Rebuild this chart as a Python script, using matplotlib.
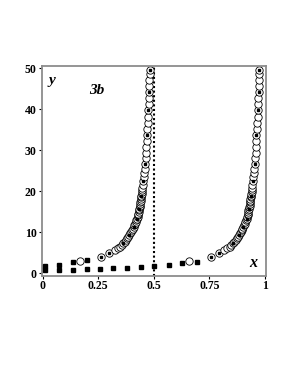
import matplotlib
matplotlib.use("Agg")
import matplotlib.pyplot as plt

plt.rcParams['font.family'] = ['Liberation Serif', 'DejaVu Serif']

# open circles (y shared by both branches)
y_c = [3.0, 4.05, 4.9,
       5.7, 6.1, 6.5, 6.9, 7.3, 7.7, 8.1, 8.5, 8.9, 9.3,
       9.7, 10.1, 10.5, 10.9, 11.3, 11.7, 12.1, 12.5, 12.9, 13.3,
       13.7, 14.1, 14.5, 14.9, 15.3, 15.7, 16.1, 16.5, 16.9, 17.3,
       17.7, 18.1, 18.5, 18.9, 19.4, 19.9, 20.4, 20.9, 21.4,
       22.4, 23.4, 24.4, 25.5, 26.7, 28.0, 29.4, 30.8, 32.2, 33.7,
       35.2, 36.7, 38.2, 39.7, 41.2, 42.7, 44.2, 45.7, 47.2, 48.6, 49.6]
x_c1 = [0.168, 0.261, 0.300,
        0.325, 0.337, 0.348, 0.356, 0.363, 0.369, 0.375, 0.381, 0.386, 0.390,
        0.395, 0.399, 0.403, 0.406, 0.409, 0.412, 0.416, 0.419, 0.422, 0.425,
        0.427, 0.429, 0.430, 0.432, 0.433, 0.435, 0.436, 0.438, 0.439, 0.440,
        0.441, 0.442, 0.443, 0.444, 0.446, 0.447, 0.448, 0.449, 0.450,
        0.452, 0.454, 0.456, 0.459, 0.461, 0.463, 0.465, 0.467, 0.468, 0.469,
        0.471, 0.472, 0.474, 0.476, 0.477, 0.478, 0.479, 0.480, 0.480, 0.481, 0.481]
x_c2 = [0.660, 0.756, 0.794,
        0.818, 0.830, 0.841, 0.849, 0.856, 0.862, 0.868, 0.874, 0.879, 0.883,
        0.888, 0.892, 0.896, 0.899, 0.902, 0.905, 0.909, 0.912, 0.915, 0.918,
        0.920, 0.922, 0.923, 0.925, 0.926, 0.928, 0.929, 0.931, 0.932, 0.933,
        0.934, 0.935, 0.936, 0.937, 0.939, 0.940, 0.941, 0.942, 0.943,
        0.945, 0.947, 0.949, 0.952, 0.954, 0.956, 0.958, 0.960, 0.961, 0.962,
        0.964, 0.965, 0.967, 0.969, 0.970, 0.971, 0.972, 0.973, 0.973, 0.974, 0.974]

# black squares near the x axis
x_sq_low = [0.010, 0.075, 0.135, 0.198, 0.258, 0.318, 0.381, 0.441, 0.500, 0.568, 0.628, 0.693]
y_sq_low = [0.88, 0.88, 0.85, 0.98, 1.05, 1.2, 1.37, 1.54, 1.85, 2.0, 2.4, 2.83]
x_sq_up = [0.010, 0.075, 0.135, 0.198]
y_sq_up = [1.8, 2.1, 2.65, 3.1]
# black squares sitting inside some circles
y_sq_c = [4.05, 4.9, 7.3, 9.3, 11.3, 13.3, 15.7, 18.9, 22.4, 26.7, 33.7, 39.7, 44.2, 49.6]
x_sq_c1 = [0.261, 0.300, 0.363, 0.390, 0.409, 0.425, 0.435, 0.444, 0.452, 0.461, 0.469, 0.476, 0.479, 0.481]
x_sq_c2 = [0.756, 0.794, 0.856, 0.883, 0.902, 0.918, 0.928, 0.937, 0.945, 0.954, 0.962, 0.969, 0.972, 0.974]

xticks = [0, 0.25, 0.5, 0.75, 1]
xlabels = ['0', '0.25', '0.5', '0.75', '1']
yticks = [0, 10, 20, 30, 40, 50]

fig = plt.figure(figsize=(2.89, 3.74), dpi=100)
ax = fig.add_axes([0.144, 0.263, 0.776, 0.561])

ax.axvline(0.5, color='black', lw=1.5, linestyle=(0, (1, 1.2)), zorder=1)

circ = dict(linestyle='none', marker='o', markersize=5.3, markerfacecolor='white',
            markeredgecolor='black', markeredgewidth=0.6, zorder=2)
ax.plot(x_c1, y_c, **circ)
ax.plot(x_c2, y_c, **circ)

sq = dict(linestyle='none', marker='s', markersize=2.4, color='black', zorder=3)
ax.plot(x_sq_low, y_sq_low, **sq)
ax.plot(x_sq_up, y_sq_up, **sq)
sq['markersize'] = 2.0
ax.plot(x_sq_c1, y_sq_c, **sq)
ax.plot(x_sq_c2, y_sq_c, **sq)

ax.set_xlim(-0.0045, 1.0045)
ax.set_ylim(-0.6, 50.6)
ax.set_xticks(xticks)
ax.set_xticklabels(xlabels)
ax.set_yticks(yticks)
for lab in ax.get_xticklabels() + ax.get_yticklabels():
    lab.set_fontweight('bold')
    lab.set_fontsize(8.5)
ax.tick_params(direction='out', length=2.5, width=0.8, pad=1.0, color='black')

for s in ax.spines.values():
    s.set_color('#8c8c8c')
    s.set_linewidth(1.3)

ax.text(0.04, 47, 'y', fontsize=11, fontweight='bold', style='italic', ha='center', va='center')
ax.text(0.245, 44.7, '3b', fontsize=11, fontweight='bold', style='italic', ha='center', va='center')
ax.text(0.948, 2.6, 'x', fontsize=11.5, fontweight='bold', style='italic', ha='center', va='center')

fig.savefig('out.png', dpi=100)
